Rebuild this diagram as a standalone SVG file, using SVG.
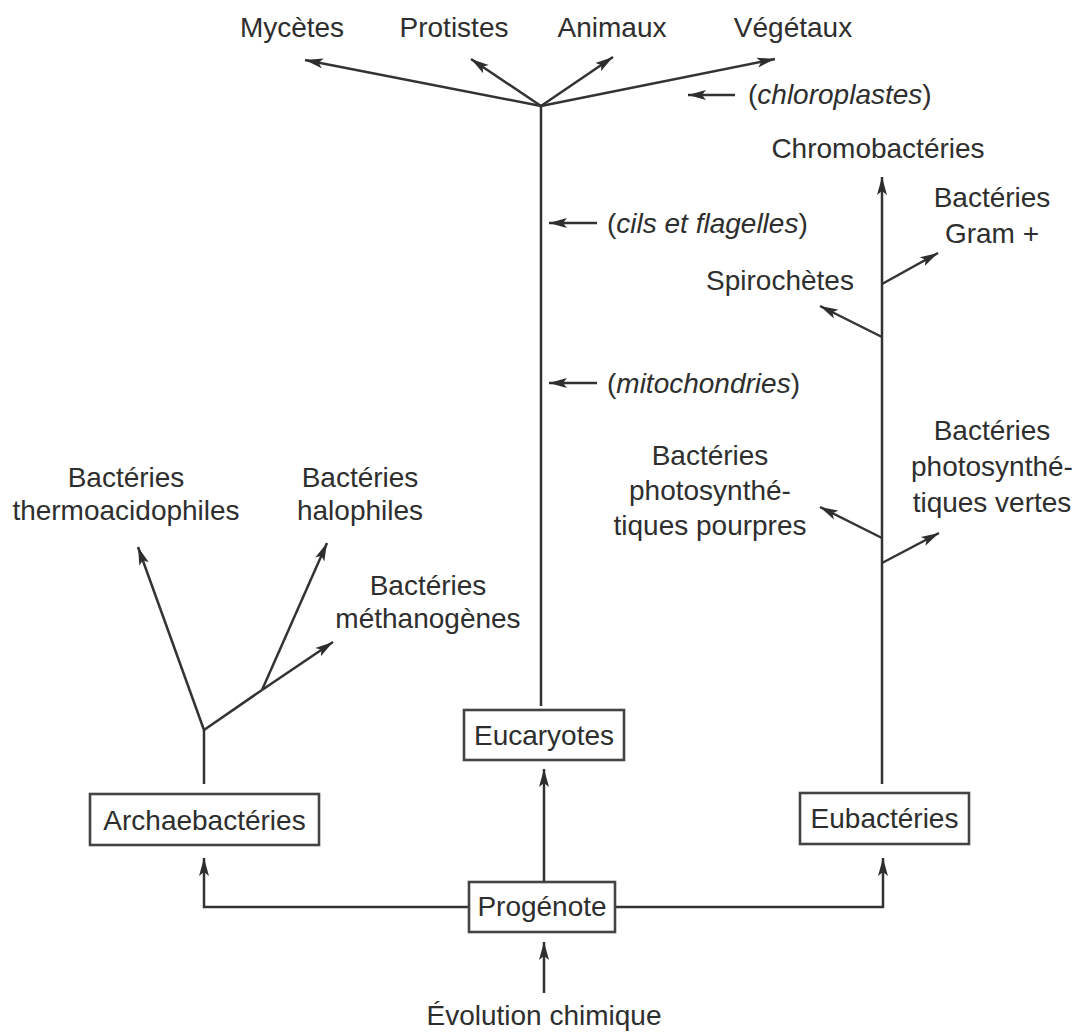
<svg xmlns="http://www.w3.org/2000/svg" width="1076" height="1035" viewBox="0 0 1076 1035">
<defs>
<marker id="ah" markerUnits="userSpaceOnUse" markerWidth="20" markerHeight="12" refX="18" refY="6" orient="auto">
<path d="M0,1 L18,6 L0,11 L4,6 z" fill="#2e2e2e"/>
</marker>
<style>
.t{font-family:"Liberation Sans",Arial,Helvetica,sans-serif;font-size:28px;fill:#2e2e2e;text-anchor:middle}
.s{text-anchor:start}
.i{font-style:italic}
.ln{stroke:#333;stroke-width:2.5;fill:none}
.ar{stroke:#333;stroke-width:2.5;fill:none;marker-end:url(#ah)}
.box{fill:#fff;stroke:#444;stroke-width:2.6}
</style>
</defs>
<rect width="1076" height="1035" fill="#fff"/>

<g id="connectors">
<line class="ln" x1="541" y1="106" x2="541" y2="706"/>
<line class="ar" x1="541" y1="106" x2="305" y2="60"/>
<line class="ar" x1="541" y1="106" x2="471" y2="59"/>
<line class="ar" x1="541" y1="106" x2="613" y2="57"/>
<line class="ar" x1="541" y1="106" x2="775" y2="59"/>
<line class="ar" x1="735" y1="95" x2="688" y2="95"/>
<line class="ar" x1="597" y1="223" x2="549" y2="223"/>
<line class="ar" x1="597" y1="383" x2="549" y2="383"/>
<line class="ar" x1="882" y1="784" x2="882" y2="177"/>
<line class="ar" x1="882" y1="284" x2="938" y2="253"/>
<line class="ar" x1="882" y1="337" x2="820" y2="306"/>
<line class="ar" x1="882" y1="538" x2="820" y2="507"/>
<line class="ar" x1="882" y1="563" x2="939" y2="533"/>
<line class="ln" x1="204" y1="784" x2="204" y2="730"/>
<line class="ar" x1="204" y1="730" x2="138" y2="547"/>
<line class="ln" x1="204" y1="730" x2="262" y2="690"/>
<line class="ar" x1="262" y1="690" x2="333" y2="642"/>
<line class="ar" x1="262" y1="690" x2="327" y2="543"/>
<polyline class="ar" points="469,907 204,907 204,858"/>
<polyline class="ar" points="615,907 883,907 883,858"/>
<line class="ar" x1="544" y1="882" x2="544" y2="769"/>
<line class="ar" x1="544" y1="993" x2="544" y2="942"/>
</g>

<g id="top-labels">
<text class="t" x="292" y="37">Mycètes</text>
<text class="t" x="454" y="37">Protistes</text>
<text class="t" x="612" y="37">Animaux</text>
<text class="t" x="793" y="37">Végétaux</text>
</g>
<g id="organelles">
<text class="t s" x="748" y="104">(<tspan class="i">chloroplastes</tspan>)</text>
<text class="t s" x="607" y="233">(<tspan class="i">cils et flagelles</tspan>)</text>
<text class="t s" x="607" y="393">(<tspan class="i">mitochondries</tspan>)</text>
</g>
<g id="eubacteria-groups">
<text class="t" x="878" y="158">Chromobactéries</text>
<text class="t" x="992" y="207">Bactéries</text>
<text class="t" x="992" y="243">Gram +</text>
<text class="t" x="780" y="290">Spirochètes</text>
<text class="t" x="710" y="465">Bactéries</text>
<text class="t" x="710" y="500">photosynthé-</text>
<text class="t" x="710" y="535">tiques pourpres</text>
<text class="t" x="992" y="440">Bactéries</text>
<text class="t" x="992" y="476">photosynthé-</text>
<text class="t" x="992" y="512">tiques vertes</text>
</g>
<g id="archaebacteria-groups">
<text class="t" x="126" y="487">Bactéries</text>
<text class="t" x="126" y="520">thermoacidophiles</text>
<text class="t" x="360" y="487">Bactéries</text>
<text class="t" x="360" y="520">halophiles</text>
<text class="t" x="428" y="595">Bactéries</text>
<text class="t" x="428" y="628">méthanogènes</text>
</g>
<g id="eucaryotes">
<rect class="box" x="464" y="710" width="160" height="50"/>
<text class="t" x="544" y="745">Eucaryotes</text>
</g>
<g id="archaebacteries">
<rect class="box" x="90" y="794" width="229" height="51"/>
<text class="t" x="204.5" y="830">Archaebactéries</text>
</g>
<g id="eubacteries">
<rect class="box" x="800" y="793" width="169" height="51"/>
<text class="t" x="884.5" y="828">Eubactéries</text>
</g>
<g id="progenote">
<rect class="box" x="469" y="882" width="146" height="50"/>
<text class="t" x="542" y="916">Progénote</text>
</g>
<g id="evolution">
<text class="t" x="544" y="1025">Évolution chimique</text>
</g>
</svg>
